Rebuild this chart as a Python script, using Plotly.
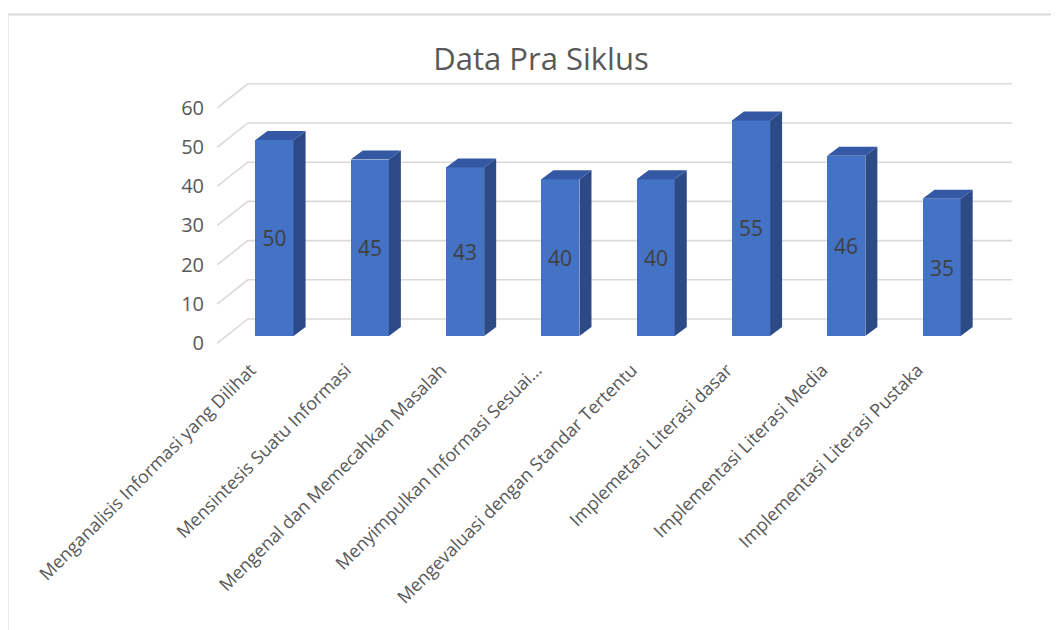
import plotly.graph_objects as go

CATEGORIES = [
    "Menganalisis Informasi yang Dilihat",
    "Mensintesis Suatu Informasi",
    "Mengenal dan Memecahkan Masalah",
    "Menyimpulkan Informasi Sesuai…",
    "Mengevaluasi dengan Standar Tertentu",
    "Implemetasi Literasi dasar",
    "Implementasi Literasi Media",
    "Implementasi Literasi Pustaka",
]
VALUES = [50, 45, 43, 40, 40, 55, 46, 35]
Y_TICKS = [0, 10, 20, 30, 40, 50, 60]

FRONT = "#4472C4"
SIDE = "#2C4A85"
TOP = "#3458A4"
GRID = "#D9D9D9"
TEXT = "#595959"
FONT = "Open Sans"

# the page body has an 8px margin, so the figure is a bit smaller and shifted
OFF = 8
W, H = 1059 - OFF, 630 - OFF
M_L, M_R, M_T, M_B = 205 - OFF, 29, 80 - OFF, 275

# fake 3d depth (in axis units)
BAR_W = 0.4
DEPTH_X, DEPTH_Y = 0.126, 2.3
FLOOR_FRONT_X, FLOOR_BACK_X, WALL_END_X = -0.60, -0.28, 7.74
FRONT_DY, BACK_DY = -1.79, 4.34
LABEL_SHIFT = 0.25

idx = list(range(len(VALUES)))

fig = go.Figure()

# gridlines: diagonal on the side wall + horizontal on the back wall
gx, gy = [], []
for t in Y_TICKS:
    gx += [FLOOR_FRONT_X, FLOOR_BACK_X, WALL_END_X, None]
    gy += [t + FRONT_DY, t + BACK_DY, t + BACK_DY, None]
fig.add_trace(
    go.Scatter(x=gx, y=gy, mode="lines", line=dict(color=GRID, width=1.6),
               hoverinfo="skip", showlegend=False)
)

# front faces (on an overlay axis so they sit above the gridlines)
fig.add_trace(
    go.Bar(
        x=idx,
        y=VALUES,
        width=BAR_W,
        xaxis="x2",
        yaxis="y2",
        marker=dict(color=FRONT, line=dict(width=0)),
        text=[str(v) for v in VALUES],
        textposition="inside",
        insidetextanchor="middle",
        textangle=0,
        textfont=dict(family=FONT, size=21, color="#404040"),
        hoverinfo="skip",
        showlegend=False,
    )
)

# side and top faces
for i, v in zip(idx, VALUES):
    r = i + BAR_W / 2
    l = i - BAR_W / 2
    fig.add_trace(
        go.Scatter(
            x=[r, r + DEPTH_X, r + DEPTH_X, r, r],
            y=[0, DEPTH_Y, v + DEPTH_Y, v, 0],
            xaxis="x2", yaxis="y2",
            fill="toself", fillcolor=SIDE, mode="lines",
            line=dict(width=0, color=SIDE), hoverinfo="skip", showlegend=False,
        )
    )
    fig.add_trace(
        go.Scatter(
            x=[l, l + DEPTH_X, r + DEPTH_X, r, l],
            y=[v, v + DEPTH_Y, v + DEPTH_Y, v, v],
            xaxis="x2", yaxis="y2",
            fill="toself", fillcolor=TOP, mode="lines",
            line=dict(width=0, color=TOP), hoverinfo="skip", showlegend=False,
        )
    )

px_x = 95.3
px_y = 3.92
x_min = (M_L + OFF - 274.5) / px_x
x_max = x_min + (W - M_L - M_R) / px_x
y_max = (336 - OFF - M_T) / px_y
y_min = y_max - (H - M_T - M_B) / px_y

fig.update_layout(
    width=W,
    height=H,
    margin=dict(l=M_L, r=M_R, t=M_T, b=M_B),
    paper_bgcolor="white",
    plot_bgcolor="white",
    font=dict(family=FONT, color=TEXT),
    title=dict(
        text="Data Pra Siklus",
        x=(541 - OFF) / W,
        y=1 - (59 - OFF) / H,
        xanchor="center",
        yanchor="middle",
        font=dict(family=FONT, size=31, color=TEXT),
    ),
    xaxis=dict(
        range=[x_min, x_max],
        tickvals=[i - LABEL_SHIFT for i in idx],
        ticktext=CATEGORIES,
        tickangle=-45,
        tickfont=dict(family=FONT, size=18, color=TEXT),
        showgrid=False,
        zeroline=False,
        showline=False,
        ticks="",
        automargin=False,
    ),
    yaxis=dict(
        range=[y_min, y_max],
        tickvals=[t + FRONT_DY for t in Y_TICKS],
        ticktext=[str(t) for t in Y_TICKS],
        tickfont=dict(family=FONT, size=20, color=TEXT),
        showgrid=False,
        zeroline=False,
        showline=False,
        ticks="",
        automargin=False,
    ),
    xaxis2=dict(range=[x_min, x_max], overlaying="x", visible=False),
    yaxis2=dict(range=[y_min, y_max], overlaying="y", visible=False),
    bargap=0,
)

# chart border
pw = W - M_L - M_R
ph = H - M_T - M_B
fig.add_shape(
    type="rect",
    xref="paper", yref="paper",
    x0=(7.5 - OFF - M_L) / pw, x1=(W + 5 - M_L) / pw,
    y0=(H - M_B - (H + 5)) / ph, y1=(H - M_B - (14.5 - OFF)) / ph,
    line=dict(color=GRID, width=2),
    fillcolor="rgba(0,0,0,0)",
)

fig.write_html("out.html")
